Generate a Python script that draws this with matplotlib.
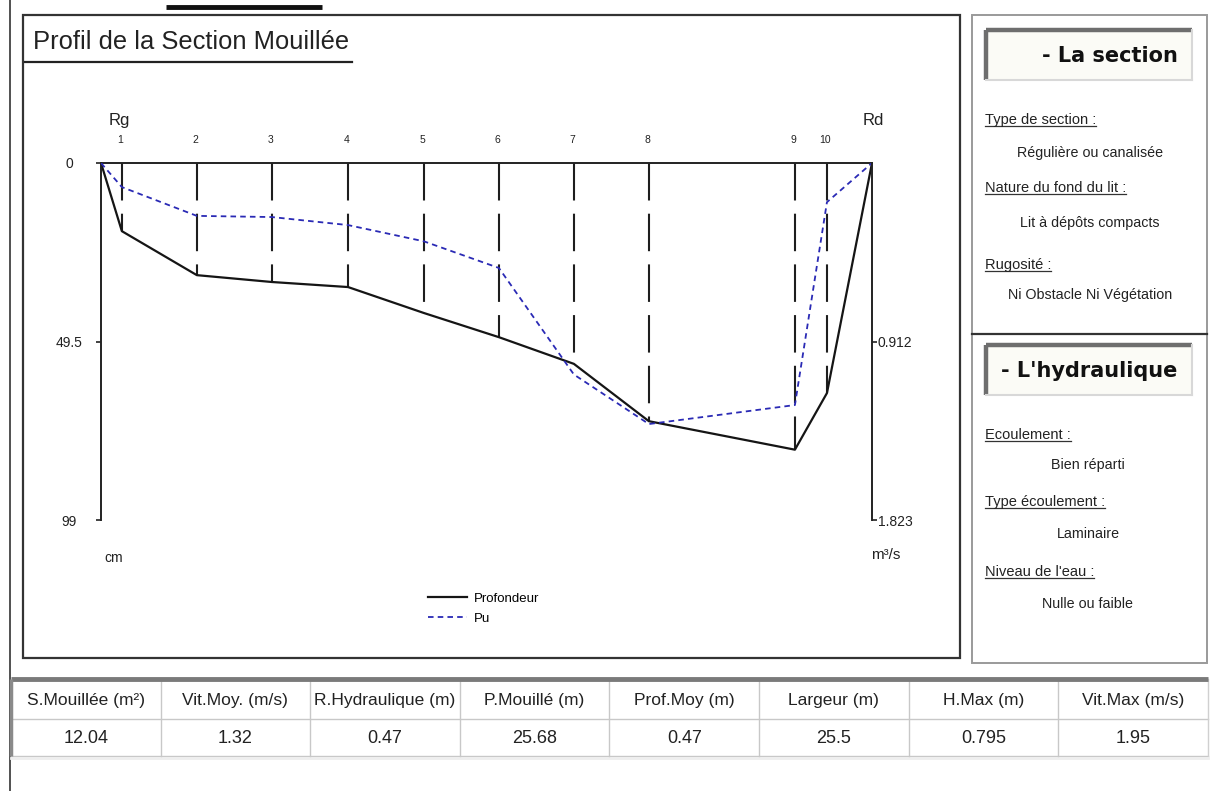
import matplotlib
matplotlib.use('Agg')
import matplotlib.pyplot as plt
from matplotlib.lines import Line2D
from matplotlib.patches import Rectangle

plt.rcParams['lines.scale_dashes'] = False
NARROW = ['Liberation Sans Narrow', 'Liberation Sans', 'DejaVu Sans']
plt.rcParams['font.family'] = NARROW

# ---------------- data ----------------
vert_labels = ['1', '2', '3', '4', '5', '6', '7', '8', '9', '10']
vert_pos_m = [0.69, 3.17, 5.65, 8.17, 10.68, 13.16, 15.64, 18.12, 22.95, 24.01]
largeur_m = 25.5
profondeur_cm = [18.9, 31.1, 33.0, 34.4, 41.6, 48.3, 55.7, 71.6, 79.5, 63.8]
pu_m3s = [0.123, 0.27, 0.276, 0.317, 0.40, 0.536, 1.08, 1.333, 1.236, 0.20]
depth_ticks = [0, 49.5, 99]
depth_ticklabels = ['0', '49.5', '99']
pu_ticks = [0.912, 1.823]
pu_ticklabels = ['0.912', '1.823']
series_names = ['Profondeur', 'Pu']

table_headers = ['S.Mouillée (m²)', 'Vit.Moy. (m/s)', 'R.Hydraulique (m)', 'P.Mouillé (m)',
                 'Prof.Moy (m)', 'Largeur (m)', 'H.Max (m)', 'Vit.Max (m/s)']
table_values = ['12.04', '1.32', '0.47', '25.68', '0.47', '25.5', '0.795', '1.95']

section_title = '- La section'
section_items = [('Type de section :', 'Régulière ou canalisée'),
                 ('Nature du fond du lit :', 'Lit à dépôts compacts'),
                 ('Rugosité :', 'Ni Obstacle Ni Végétation')]
hydro_title = "- L'hydraulique"
hydro_items = [('Ecoulement :', 'Bien réparti'),
               ('Type écoulement :', 'Laminaire'),
               ("Niveau de l'eau :", 'Nulle ou faible')]

# ---------------- figure ----------------
W, H = 1218, 791
fig = plt.figure(figsize=(W / 100, H / 100), dpi=100)
fig.patch.set_facecolor('white')

# overlay axes in pixel coordinates (y downward)
ax0 = fig.add_axes([0, 0, 1, 1])
ax0.set_xlim(0, W)
ax0.set_ylim(H, 0)
ax0.axis('off')

# decorations
ax0.plot([10, 10], [0, H], color='#333333', lw=1.2)
ax0.plot([166, 322], [7, 7], color='#111111', lw=3.5, solid_capstyle='butt')
ax0.add_patch(Rectangle((23, 15), 937, 643, fill=True, facecolor='white',
                        edgecolor='#333333', lw=1.6))
# right panel
ax0.add_patch(Rectangle((972, 15), 235, 648, facecolor='white', edgecolor='#9a9a9a', lw=1.4))
ax0.plot([972, 1207], [334, 334], color='#333333', lw=1.6)


def inset_box(x0, y0, x1, y1, text, cx):
    ax0.add_patch(Rectangle((x0, y0), x1 - x0, y1 - y0, facecolor='#fbfbf6', edgecolor='none'))
    ax0.plot([x0, x1], [y0, y0], color='#6e6e6e', lw=3.2, solid_capstyle='butt')
    ax0.plot([x0, x0], [y0, y1], color='#6e6e6e', lw=3.2, solid_capstyle='butt')
    ax0.plot([x1, x1], [y0, y1], color='#d8d8d8', lw=1.5)
    ax0.plot([x0, x1], [y1, y1], color='#d8d8d8', lw=1.5)
    ax0.text(cx, (y0 + y1) / 2 + 1, text, ha='center', va='center',
             fontsize=15, fontweight='bold', family=['DejaVu Sans'], color='#111111')


inset_box(986, 30, 1192, 80, section_title, 1110)
inset_box(986, 345, 1192, 395, hydro_title, 1089)

underline_texts = []


def panel_items(items, label_y, value_y, x_center):
    for (lab, val), yl, yv in zip(items, label_y, value_y):
        t = ax0.text(985, yl, lab, ha='left', va='center', fontsize=10.5, color='#222222')
        underline_texts.append(t)
        ax0.text(x_center, yv, val, ha='center', va='center', fontsize=10.3, color='#222222')


panel_items(section_items, [120, 188, 265], [153, 223, 295], 1090)
panel_items(hydro_items, [435, 502, 572], [465, 534, 604], 1088)

# title
title = ax0.text(33, 42, 'Profil de la Section Mouillée', ha='left', va='center',
                 fontsize=18.4, color='#222222')
ax0.plot([25, 352], [62, 62], color='#222222', lw=1.6)

# table
x0_tab, col_w = 11, 149.6
y_top, y_mid, y_bot = 679, 719, 756
ncol = len(table_headers)
x_end = x0_tab + ncol * col_w
ax0.add_patch(Rectangle((x0_tab, y_top), x_end - x0_tab, y_bot - y_top, facecolor='white', edgecolor='none'))
ax0.plot([x0_tab, x_end], [y_mid, y_mid], color='#c8c8c8', lw=1.0)
ax0.plot([x0_tab, x_end], [y_bot, y_bot], color='#c8c8c8', lw=1.0)
ax0.plot([x_end, x_end], [y_top, y_bot], color='#d0d0d0', lw=1.0)
ax0.plot([x0_tab, x_end], [y_bot + 2, y_bot + 2], color='#eeeeee', lw=2.0)
for i in range(1, ncol):
    xx = x0_tab + i * col_w
    ax0.plot([xx, xx], [y_top, y_bot], color='#c8c8c8', lw=1.0)
ax0.plot([x0_tab, x_end], [y_top, y_top], color='#7a7a7a', lw=3.5, solid_capstyle='butt')
ax0.plot([x0_tab, x0_tab], [y_top, y_bot], color='#8a8a8a', lw=2.5, solid_capstyle='butt')
for i, (h, v) in enumerate(zip(table_headers, table_values)):
    cx = x0_tab + (i + 0.5) * col_w
    ax0.text(cx, (y_top + y_mid) / 2 + 1, h, ha='center', va='center', fontsize=12.5, color='#222222')
    ax0.text(cx, (y_mid + y_bot) / 2 + 1, v, ha='center', va='center', fontsize=13, color='#222222')

# ---------------- chart axes ----------------
ax_l, ax_r, ax_t, ax_b = 101, 872, 163, 520
ax = fig.add_axes([ax_l / W, 1 - ax_b / H, (ax_r - ax_l) / W, (ax_b - ax_t) / H])
ax.patch.set_alpha(0)
ax.set_xlim(0, largeur_m)
ax.set_ylim(99, 0)
for s in ['bottom', 'right']:
    ax.spines[s].set_visible(False)
for s in ['left', 'top']:
    ax.spines[s].set_color('#222222')
    ax.spines[s].set_linewidth(1.4)
ax.set_xticks([])
ax.set_yticks(depth_ticks)
ax.set_yticklabels(depth_ticklabels, fontsize=10, color='#222222', ha='center')
ax.tick_params(axis='y', direction='out', length=3.6, width=1.2, pad=19.4, colors='#222222')
ax.yaxis.get_major_ticks()[0].tick1line.set_visible(False)

ax2 = ax.twinx()
ax2.set_ylim(1.823, 0)
for s in ['bottom', 'left', 'top']:
    ax2.spines[s].set_visible(False)
ax2.spines['right'].set_color('#222222')
ax2.spines['right'].set_linewidth(1.4)
ax2.set_yticks(pu_ticks)
ax2.set_yticklabels(pu_ticklabels, fontsize=10, color='#222222')
ax2.tick_params(axis='y', direction='out', length=3.6, width=1.2, pad=0.5, colors='#222222')

# profile
xs = [0] + vert_pos_m + [largeur_m]
depth = [0] + profondeur_cm + [0]
pus = [0] + pu_m3s + [0]

for xv, d in zip(vert_pos_m, profondeur_cm):
    ax.plot([xv, xv], [0, d], color='#1e1e1e', lw=1.5, linestyle=(0, (27, 9.5)),
            solid_capstyle='butt', dash_capstyle='butt')
l1, = ax.plot(xs, depth, color='#151515', lw=1.6)
l2, = ax2.plot(xs, pus, color='#2a2ab5', lw=1.3, linestyle=(0, (4, 3)))

for xv, lab in zip(vert_pos_m, vert_labels):
    ax.text(xv - 0.05, -6.4, lab, ha='center', va='center', fontsize=7.5, color='#222222', clip_on=False)
ax.text(0.6, -11.8, 'Rg', ha='center', va='center', fontsize=12, color='#222222', clip_on=False)
ax.text(25.55, -11.8, 'Rd', ha='center', va='center', fontsize=12, color='#222222', clip_on=False)
ax.text(0.1, 109.6, 'cm', ha='left', va='center', fontsize=10, color='#222222', clip_on=False)
ax.text(25.48, 108.7, 'm³/s', ha='left', va='center', fontsize=11, color='#222222', clip_on=False)

fig.legend([l1, l2], series_names, loc='upper left', bbox_to_anchor=(416 / W, 1 - 581 / H),
           frameon=False, fontsize=9.5, handlelength=3.0, handletextpad=0.45, labelspacing=0.55)

# underline the panel labels
fig.canvas.draw()
inv = ax0.transData.inverted()
for t in underline_texts:
    bb = t.get_window_extent()
    (xa, ya), (xb, yb) = inv.transform([(bb.x0, bb.y0), (bb.x1, bb.y0)])
    ax0.plot([xa, xb], [ya - 1, yb - 1], color='#333333', lw=0.9)

fig.savefig('out.png', dpi=100)
